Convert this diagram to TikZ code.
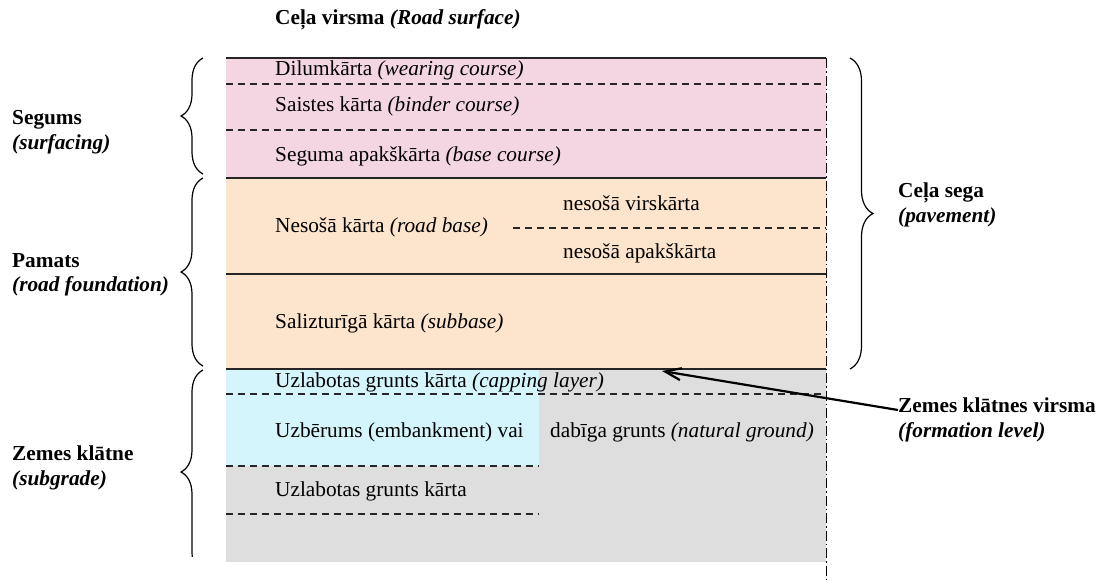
\documentclass[tikz,border=0pt]{standalone}
\usepackage{fontspec}
\setmainfont{Liberation Serif}
\usetikzlibrary{decorations.pathreplacing,arrows.meta}
\definecolor{surfc}{RGB}{243, 214, 226}
\definecolor{basec}{RGB}{253, 228, 205}
\definecolor{fillc}{RGB}{213, 245, 252}
\definecolor{soilc}{RGB}{222, 222, 222}

\tikzset{
  txt/.style={anchor=west, inner sep=0pt, font=\fontsize{21.3}{24.5}\selectfont},
  side/.style={anchor=west, inner sep=0pt, align=left, font=\fontsize{21.3}{24.5}\selectfont\bfseries},
  solidline/.style={line width=1.5pt, color=black!85},
  cutline/.style={line width=1.5pt, color=black!85, dash pattern=on 7pt off 5pt},
  axisline/.style={line width=1pt, dash pattern=on 10pt off 3pt on 1.5pt off 3pt},
  curly/.style={decorate, decoration={brace, amplitude=22pt}, line width=1.2pt},
}

\begin{document}
\begin{tikzpicture}[x=1pt, y=-1pt]
\useasboundingbox (0,0) rectangle (1098,582);
% layers
\fill [surfc] (226,58) rectangle (826,178);
\fill [basec] (226,178) rectangle (826,369);
\fill [soilc] (226,369) rectangle (826,562);
\fill [fillc] (226,369) rectangle (539,466);
% boundaries
\draw [solidline] (226,58) -- (826,58);
\draw [cutline] (226,84) -- (826,84);
\draw [cutline] (226,130) -- (826,130);
\draw [solidline] (226,178) -- (826,178);
\draw [cutline] (513,228) -- (826,228);
\draw [solidline] (226,274) -- (826,274);
\draw [solidline] (226,369) -- (826,369);
\draw [cutline] (226,394) -- (826,394);
\draw [cutline] (226,466) -- (539,466);
\draw [cutline] (226,514) -- (539,514);
\draw [axisline] (826,58) -- (826,582);
% layer names
\node (top) [side] at (275,20) {Ceļa virsma \textit{(Road surface)}};
\node (wear) [txt] at (275,70) {Dilumkārta \textit{(wearing course)}};
\node (bind) [txt] at (275,106) {Saistes kārta \textit{(binder course)}};
\node (bcourse) [txt] at (275,156) {Seguma apakškārta \textit{(base course)}};
\node (rbase) [txt] at (275,227) {Nesošā kārta \textit{(road base)}};
\node (upper) [txt] at (563,203) {nesošā virskārta};
\node (lower) [txt] at (563,253) {nesošā apakškārta};
\node (sub) [txt] at (275,323) {Salizturīgā kārta \textit{(subbase)}};
\node (cap) [txt] at (275,382) {Uzlabotas grunts kārta \textit{(capping layer)}};
\node (emb) [txt] at (275,432) {Uzbērums (embankment) vai};
\node (nat) [txt] at (550,432) {dabīga grunts \textit{(natural ground)}};
\node (cap2) [txt] at (275,491) {Uzlabotas grunts kārta};
% groups
\node (surf) [side] at (12,132) {Segums\\\textit{(surfacing)}};
\node (found) [side] at (12,275) {Pamats\\\textit{(road foundation)}};
\node (grade) [side] at (12,468) {Zemes klātne\\\textit{(subgrade)}};
\node (pave) [side] at (898,205) {Ceļa sega\\\textit{(pavement)}};
\node (form) [side] at (898,420) {Zemes klātnes virsma\\\textit{(formation level)}};
% braces
\coordinate (s1) at (203,58);
\coordinate (s2) at (203,174);
\coordinate (f1) at (203,178);
\coordinate (f2) at (203,366);
\coordinate (g1) at (203,370);
\coordinate (g2) at (203,574);
\coordinate (p1) at (850,58);
\coordinate (p2) at (850,369);
\draw [curly] (s2) -- (s1);
\draw [curly] (f2) -- (f1);
\begin{scope}
\clip (150,360) rectangle (215,556);
\draw [curly] (g2) -- (g1);
\end{scope}
\draw [curly, decoration={amplitude=23pt}] (p1) -- (p2);
% formation level
\coordinate (lvl) at (662,371);
\draw [line width=2.2pt, -{Straight Barb[length=16pt, width=12pt]}] ([yshift=10pt]form.west) -- (lvl);
\end{tikzpicture}
\end{document}
